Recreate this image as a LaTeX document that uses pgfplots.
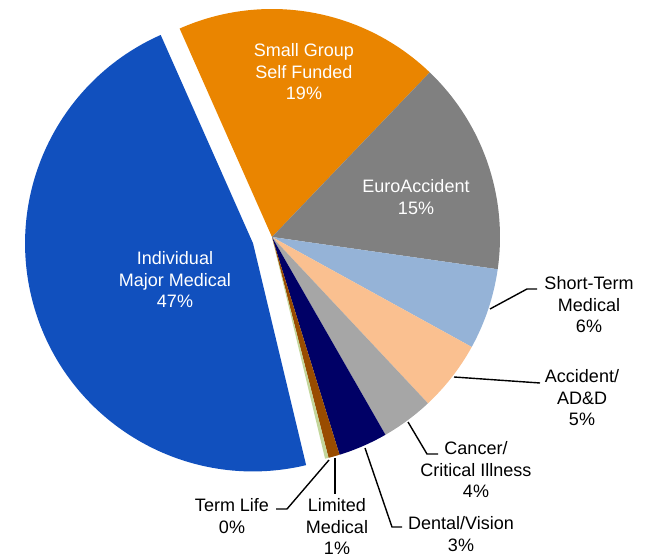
\documentclass[border=0pt]{standalone}
\usepackage{pgfplots}
\pgfplotsset{compat=1.18}
\usepackage{pgfplotstable}
\usepackage{fontspec}
\setmainfont{Liberation Sans}

\definecolor{cIndiv}{RGB}{17,80,190}
\definecolor{cSmall}{RGB}{234,133,0}
\definecolor{cEuro}{RGB}{128,128,128}
\definecolor{cShort}{RGB}{149,179,215}
\definecolor{cAcc}{RGB}{250,192,144}
\definecolor{cCancer}{RGB}{166,166,166}
\definecolor{cDental}{RGB}{0,0,102}
\definecolor{cLimited}{RGB}{153,76,0}
\definecolor{cTerm}{RGB}{195,214,155}

% share in percent, clockwise from the top
\pgfplotstableread{
name     value explode
cSmall   18.8  0
cEuro    15.1  0
cShort   5.75  0
cAcc     5.0   0
cCancer  3.7   0
cDental  3.5   0
cLimited 0.8   0
cTerm    0.25  0
cIndiv   47.1  20
}\piedata

\begin{document}
\begin{tikzpicture}[lbl/.style={font=\fontsize{18}{21.5}\selectfont, align=center, inner sep=0pt}]
\useasboundingbox (0,0) rectangle (645pt,554pt);
\begin{axis}[
    at={(0pt,0pt)}, anchor=south west,
    x=1pt, y=1pt,
    xmin=0, xmax=645, ymin=0, ymax=554,
    hide axis, clip=false,
]
\def\angA{113.9}
\pgfplotsforeachungrouped \i in {0,...,8}{%
  \pgfplotstablegetelem{\i}{name}\of\piedata \let\cname\pgfplotsretval
  \pgfplotstablegetelem{\i}{value}\of\piedata \let\val\pgfplotsretval
  \pgfplotstablegetelem{\i}{explode}\of\piedata \let\ex\pgfplotsretval
  \pgfmathsetmacro\angB{\angA-3.6*\val}
  \pgfmathsetmacro\angM{(\angA+\angB)/2}
  \pgfmathsetmacro\cx{272+\ex*cos(\angM)}
  \pgfmathsetmacro\cy{317+\ex*sin(\angM)}
  \edef\temp{\noexpand\fill[\cname] (axis cs:\cx,\cy) -- ++(\angA:228)
    arc[start angle=\angA, end angle=\angB, radius=228] -- cycle;}
  \temp
  \let\angA\angB
}

% labels inside
\node[lbl, text=white] at (axis cs:175,274) {Individual\\Major Medical\\47\%};
\node[lbl, text=white] at (axis cs:304,482) {Small Group\\Self Funded\\19\%};
\node[lbl, text=white] at (axis cs:416,357) {EuroAccident\\15\%};

% leader lines
\draw[line width=1.4pt] (axis cs:490,245) -- (axis cs:527,265) -- (axis cs:537,265);
\draw[line width=1.4pt] (axis cs:454,177) -- (axis cs:540,171);
\draw[line width=1.4pt] (axis cs:408,132) -- (axis cs:427,100) -- (axis cs:438,100);
\draw[line width=1.4pt] (axis cs:365,106) -- (axis cs:392,27) -- (axis cs:402,27);
\draw[line width=1.4pt] (axis cs:335,96) -- (axis cs:335,60);
\draw[line width=1.4pt] (axis cs:329,94) -- (axis cs:287,45) -- (axis cs:276,45);

% labels outside
\node[lbl] at (axis cs:589,249) {Short-Term\\Medical\\6\%};
\node[lbl] at (axis cs:582,156) {Accident/\\AD\&D\\5\%};
\node[lbl] at (axis cs:476,84) {Cancer/\\Critical Illness\\4\%};
\node[lbl] at (axis cs:461,20) {Dental/Vision\\3\%};
\node[lbl] at (axis cs:337,27) {Limited\\Medical\\1\%};
\node[lbl] at (axis cs:232,38) {Term Life\\0\%};
\end{axis}
\end{tikzpicture}
\end{document}
